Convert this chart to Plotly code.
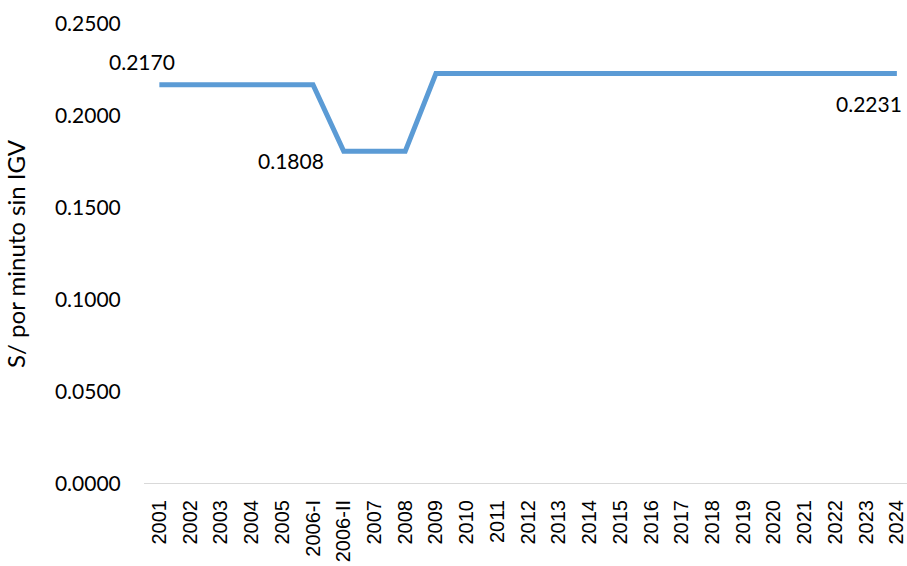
import plotly.graph_objects as go

categories = ["2001", "2002", "2003", "2004", "2005", "2006-I", "2006-II", "2007", "2008",
              "2009", "2010", "2011", "2012", "2013", "2014", "2015", "2016", "2017",
              "2018", "2019", "2020", "2021", "2022", "2023", "2024"]
values = [0.2170, 0.2170, 0.2170, 0.2170, 0.2170, 0.2170,
          0.1808, 0.1808, 0.1808,
          0.2231, 0.2231, 0.2231, 0.2231, 0.2231, 0.2231, 0.2231, 0.2231, 0.2231,
          0.2231, 0.2231, 0.2231, 0.2231, 0.2231, 0.2231, 0.2231]
yticks = [0.0, 0.05, 0.10, 0.15, 0.20, 0.25]
label_idx = [0, 6, 24]
label_shift = [(-17, 23), (-53, -9), (-28, -30)]

fig = go.Figure()
fig.add_trace(go.Scatter(
    x=list(range(len(categories))), y=values, mode="lines",
    line=dict(color="#5B9BD5", width=5), hoverinfo="skip", showlegend=False))

for i, (dx, dy) in zip(label_idx, label_shift):
    fig.add_annotation(x=i, y=values[i], xref="x", yref="y", text=f"{values[i]:.4f}",
                       showarrow=False, xshift=dx, yshift=dy,
                       font=dict(family="Lato", size=21, color="#000000"))

n = len(categories)
fig.update_layout(
    width=907, height=566,
    margin=dict(l=144, r=0, t=24, b=82, autoexpand=False),
    paper_bgcolor="white", plot_bgcolor="white",
    xaxis=dict(range=[-0.5, n - 1 + 0.33], tickmode="array",
               tickvals=list(range(n)), ticktext=categories, tickangle=-90,
               showgrid=False, zeroline=False, showline=False, ticks="outside",
               ticklen=7, tickcolor="rgba(0,0,0,0)", ticklabeloverflow="allow",
               tickfont=dict(family="Liberation Sans", size=20, color="#000000")),
    yaxis=dict(range=[0, 0.25], tickmode="array", tickvals=yticks,
               ticktext=[f"{v:.4f}" for v in yticks],
               showgrid=False, zeroline=False, showline=False,
               ticks="outside", ticklen=18, tickcolor="rgba(0,0,0,0)",
               tickfont=dict(family="Lato", size=21, color="#000000"),
               title=dict(text="S/ por minuto sin IGV", standoff=22,
                          font=dict(family="Lato", size=24, color="#000000"))),
)
fig.add_shape(type="line", xref="paper", yref="y", x0=0, x1=1, y0=0, y1=0,
              line=dict(color="#D9D9D9", width=2), layer="below")

fig.write_html("out.html", config={"displayModeBar": False},
               post_script="document.body.style.margin='0';document.body.style.overflow='hidden';")
